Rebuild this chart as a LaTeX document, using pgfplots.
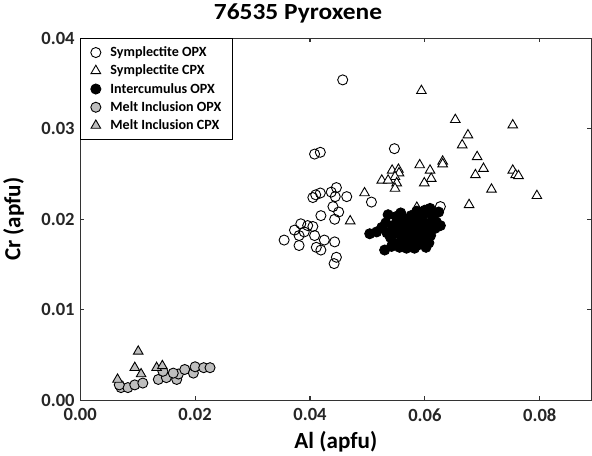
\documentclass[border=0pt]{standalone}
\usepackage{fontspec}
\setmainfont{Carlito}
\newfontfamily\titlefont[FakeStretch=1.1]{Carlito}
\usepackage{pgfplots}
\pgfplotsset{compat=1.18}
\definecolor{mgray}{RGB}{190,190,190}
\begin{document}
\begin{tikzpicture}[font=\bfseries]
\begin{axis}[
  scale only axis, width=507bp, height=359bp,
  xmin=0, xmax=0.089, ymin=0, ymax=0.04,
  xtick={0,0.02,0.04,0.06,0.08}, ytick={0,0.01,0.02,0.03,0.04},
  scaled ticks=false,
  tick align=inside, major tick length=4bp,
  axis line style={line width=1.1bp, black!80},
  tick style={line width=1.1bp, black!80},
  /pgf/number format/fixed, /pgf/number format/fixed zerofill,
  /pgf/number format/precision=2, /pgf/number format/assume math mode=true,
  yticklabel style={xshift=-2bp},
  xticklabel style={yshift=-4.5bp},
  tick label style={font=\fontsize{18.5}{20}\selectfont\bfseries, text=black!85},
  title={76535 Pyroxene},
  title style={font=\titlefont\fontsize{23}{26}\selectfont\bfseries, at={(axis description cs:0.426,1.053)}, anchor=center},
  xlabel={Al (apfu)}, ylabel={Cr (apfu)},
  xlabel style={font=\fontsize{23}{26}\selectfont\bfseries, at={(axis description cs:0.5,-0.114)}, anchor=center},
  ylabel style={font=\fontsize{23}{26}\selectfont\bfseries, at={(axis description cs:-0.130,0.5)}, anchor=center},
  legend style={at={(0,1)}, anchor=north west, draw=black, line width=1bp,
    font=\fontsize{14}{15}\selectfont\bfseries, row sep=3.8bp, column sep=8bp,
    inner xsep=10bp, inner ysep=6.5bp,
    nodes={inner sep=1.5bp}},
  legend cell align=left,
  every axis plot/.append style={only marks, line width=0.9bp},
]
% Symplectite OPX
\addplot[mark=o, mark size=5bp, mark options={draw=black, fill=white}] coordinates {
(0.0457,0.0354)(0.0408,0.0272)(0.0418,0.0274)(0.0547,0.0278)
(0.0410,0.0227)(0.0418,0.0229)(0.0405,0.0224)
(0.0446,0.0235)(0.0437,0.0230)(0.0444,0.0225)(0.0464,0.0225)
(0.0507,0.0219)(0.0419,0.0204)(0.0440,0.0214)(0.0450,0.0208)(0.0443,0.0200)
(0.0627,0.0214)
(0.0384,0.0195)(0.0396,0.0193)(0.0405,0.0192)(0.0373,0.0188)(0.0408,0.0182)
(0.0381,0.0182)(0.0355,0.0177)(0.0411,0.0169)(0.0419,0.0166)(0.0443,0.0175)
(0.0425,0.0177)(0.0446,0.0158)(0.0381,0.0171)(0.0442,0.0151)(0.0390,0.0186)
};
\addlegendentry{Symplectite OPX}
% Symplectite CPX
\addplot[mark=triangle*, mark size=5.5bp, mark options={draw=black, fill=white}] coordinates {
(0.0594,0.0342)(0.0653,0.0310)(0.0753,0.0304)(0.0675,0.0293)(0.0665,0.0282)
(0.0691,0.0269)(0.0702,0.0256)(0.0688,0.0249)(0.0753,0.0254)(0.0758,0.0249)
(0.0763,0.0248)(0.0716,0.0233)(0.0795,0.0226)(0.0677,0.0216)(0.0631,0.0264)
(0.0631,0.0261)(0.0591,0.0260)(0.0609,0.0254)(0.0611,0.0245)(0.0599,0.0240)
(0.0543,0.0254)(0.0554,0.0255)(0.0555,0.0251)(0.0548,0.0247)(0.0525,0.0243)
(0.0536,0.0243)(0.0551,0.0240)(0.0548,0.0234)(0.0495,0.0229)(0.0470,0.0198)
(0.0586,0.0213)
};
\addlegendentry{Symplectite CPX}
% Intercumulus OPX
\addplot[mark=*, mark size=5bp, mark options={draw=black, fill=black}] coordinates {
(0.0504,0.0184)(0.0530,0.0166)(0.0556,0.0169)(0.0582,0.0168)(0.0607,0.0174)
(0.0627,0.0193)(0.0624,0.0208)(0.0609,0.0212)(0.0536,0.0205)(0.0525,0.0191)
(0.0540,0.0180)(0.0548,0.0188)(0.0552,0.0196)(0.0558,0.0182)(0.0562,0.0190)
(0.0566,0.0200)(0.0570,0.0185)(0.0574,0.0194)(0.0578,0.0178)(0.0580,0.0188)
(0.0584,0.0198)(0.0588,0.0183)(0.0592,0.0192)(0.0596,0.0203)(0.0600,0.0186)
(0.0604,0.0195)(0.0610,0.0182)(0.0614,0.0200)(0.0618,0.0190)(0.0545,0.0174)
(0.0560,0.0176)(0.0572,0.0172)(0.0590,0.0175)(0.0598,0.0178)(0.0550,0.0203)
(0.0558,0.0207)(0.0576,0.0204)(0.0586,0.0209)(0.0600,0.0210)(0.0534,0.0185)
(0.0544,0.0193)(0.0556,0.0190)(0.0568,0.0181)(0.0582,0.0193)(0.0594,0.0186)
(0.0606,0.0190)(0.0620,0.0197)(0.0612,0.0205)(0.0564,0.0195)(0.0574,0.0187)
(0.0546,0.0184)(0.0532,0.0196)(0.0542,0.0170)(0.0586,0.0171)(0.0602,0.0169)
(0.0568,0.0168)(0.0516,0.0186)(0.0590,0.0202)(0.0579,0.0200)(0.0555,0.0185)
};
\addlegendentry{Intercumulus OPX}
% Melt Inclusion OPX
\addplot[mark=*, mark size=5bp, mark options={draw=black, fill=mgray}] coordinates {
(0.0071,0.0014)(0.0083,0.0014)(0.0095,0.0017)(0.0109,0.0019)(0.0068,0.0017)
(0.0136,0.0023)(0.0150,0.0025)(0.0168,0.0023)(0.0171,0.0029)(0.0182,0.0034)
(0.0197,0.0030)(0.0200,0.0037)(0.0215,0.0036)(0.0226,0.0036)(0.0162,0.0030)
(0.0144,0.0032)
};
\addlegendentry{Melt Inclusion OPX}
% Melt Inclusion CPX
\addplot[mark=triangle*, mark size=5.5bp, mark options={draw=black, fill=mgray}] coordinates {
(0.0101,0.0054)(0.0095,0.0036)(0.0106,0.0029)(0.0065,0.0023)(0.0133,0.0036)
(0.0143,0.0038)
};
\addlegendentry{Melt Inclusion CPX}
\end{axis}
\end{tikzpicture}
\end{document}
